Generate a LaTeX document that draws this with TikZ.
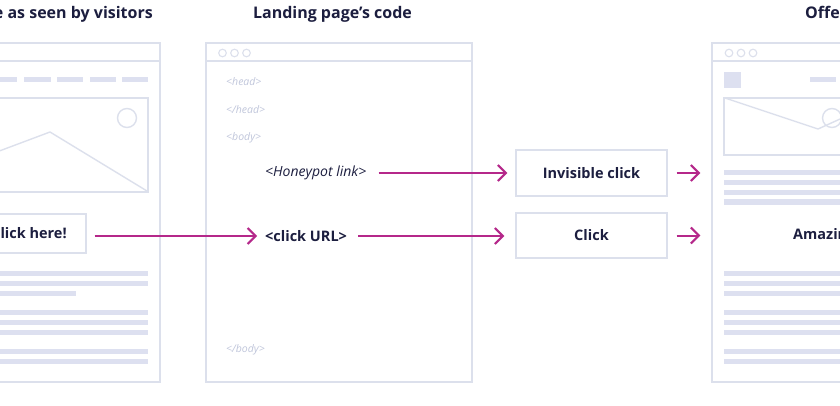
\documentclass[tikz,border=0pt]{standalone}
\usepackage{fontspec}
\setmainfont{Open Sans}
\usetikzlibrary{arrows.meta}
\definecolor{framec}{HTML}{DCE0EC}
\definecolor{barc}{HTML}{DDE0F0}
\definecolor{textc}{HTML}{1C1E3F}
\definecolor{codec}{HTML}{C0C6DB}
\definecolor{arrc}{HTML}{B5288A}
\begin{document}
\begin{tikzpicture}[x=1pt,y=-1pt,
  frame/.style={draw=framec, line width=1.4pt},
  browser/.style={frame, rectangle, inner sep=0pt, fill=white},
  bar/.style={fill=barc, draw=none},
  title/.style={font=\bfseries\fontsize{16}{19}\selectfont, text=textc, inner sep=0pt},
  lbl/.style={font=\bfseries\fontsize{14.5}{17}\selectfont, text=textc, inner sep=0pt},
  code/.style={font=\itshape\fontsize{10.5}{12}\selectfont, text=codec, inner sep=0pt, anchor=west},
  clickbox/.style={frame, rectangle, inner sep=0pt, minimum width=151pt, font=\bfseries\fontsize{14.5}{17}\selectfont, text=textc},
  arr/.style={draw=arrc, line width=2pt, -{Straight Barb[length=8pt,width=16pt,line width=2pt]}}
]
\useasboundingbox (0,0) rectangle (840,406);
\clip (0,0) rectangle (840,406);
\fill[white] (0,0) rectangle (840,406);

% ---------- Left browser: page as seen by visitors ----------
\node[title, anchor=base east] (t1) at (153,19) {Landing page as seen by visitors};
\node[browser, minimum width=190pt, minimum height=339pt] (visitor) at (65,212.5) {};
\draw[frame] (-30,61) -- (160,61);
\foreach \a/\b in {-10/17, 24/51, 57/83, 90/116, 122/148}
  \fill[bar] (\a,77.5) rectangle (\b,82.5);
\draw[frame] (-30,98) rectangle (148,192);
\draw[frame] (127,118) circle (9.5);
\draw[frame, line join=round] (-30,162) -- (50,132) -- (147,191);
\node[clickbox, minimum width=114pt, minimum height=39pt] (clickhere) at (29,233.5) {Click here!};
\foreach \y in {273,283,312,322,332,351,361}
  \fill[bar] (-30,\y-2.5) rectangle (148,\y+2.5);
\fill[bar] (-30,290.5) rectangle (76,295.5);

% ---------- Middle: landing page's code ----------
\node[title, anchor=base] (t2) at (332.5,19) {Landing page’s code};
\node[browser, minimum width=266pt, minimum height=339pt] (code) at (339,212.5) {};
\draw[frame] (206,61) -- (472,61);
\foreach \x in {222.5,234.5,246.5}
  \draw[draw=framec, line width=1.1pt] (\x,53) circle (3.8);
\node[code] (head) at (226,82) {<head>};
\node[code] (ehead) at (226,110) {</head>};
\node[code] (body) at (226,138) {<body>};
\node[code] (ebody) at (226,350) {</body>};
\node[font=\itshape\fontsize{14}{16}\selectfont, text=textc, inner sep=0pt, anchor=west] (honey) at (265,173) {<Honeypot link>};
\node[lbl, anchor=west] (clickurl) at (265,236) {<click URL>};

% ---------- Click boxes ----------
\node[clickbox, minimum height=46pt] (inv) at (591.5,173) {Invisible click};
\node[clickbox, minimum height=45pt] (clk) at (591.5,235.5) {Click};

% ---------- Right browser: offer page ----------
\node[title, anchor=base west] (t3) at (805,19) {Offer page};
\node[browser, minimum width=188pt, minimum height=339pt] (offer) at (806,212.5) {};
\draw[frame] (712,61) -- (900,61);
\foreach \x in {729,741,753}
  \draw[draw=framec, line width=1.1pt] (\x,53) circle (3.8);
\fill[bar] (724,72) rectangle (741,88);
\fill[bar] (810,77.5) rectangle (836,82.5);
\draw[frame] (724,98) rectangle (900,155);
\draw[frame, line join=round] (725,98) -- (818,129) -- (860,110);
\draw[frame] (832,118) circle (9.5);
\foreach \y in {173,183,193,202,273,283,293,312,322,332,351,361}
  \fill[bar] (724,\y-2.5) rectangle (900,\y+2.5);
\node[lbl, anchor=west] (amazing) at (793,236) {Amazing offer!};

% ---------- Connectors ----------
\draw[arr, shorten <=8pt, shorten >=8pt] (clickhere.east |- clickurl.west) -- (clickurl.west);
\draw[arr, shorten <=12pt, shorten >=8pt] (honey.east) -- (inv.west);
\draw[arr, shorten <=11pt, shorten >=11pt] (clickurl.east) -- (clickurl.east -| clk.west);
\draw[arr, shorten <=9pt, shorten >=11pt] (inv.east) -- (inv.east -| offer.west);
\draw[arr, shorten <=9pt, shorten >=11pt] (clk.east) -- (clk.east -| offer.west);
\end{tikzpicture}
\end{document}
